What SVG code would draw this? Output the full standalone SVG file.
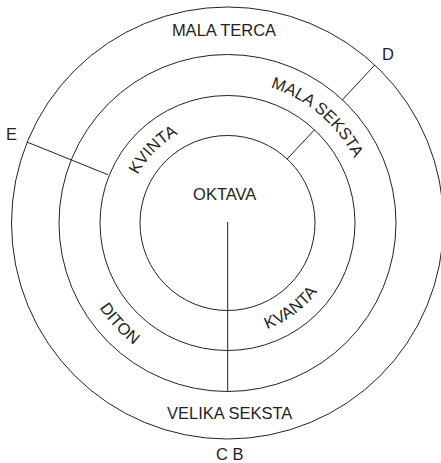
<svg xmlns="http://www.w3.org/2000/svg" width="441" height="463" viewBox="0 0 441 463">
  <style>
    .ring { fill: none; stroke: #222; stroke-width: 1; }
    .div { stroke: #222; stroke-width: 1; fill: none; }
    .lbl { font-family: "Liberation Sans", Arial, sans-serif; font-size: 16.5px; fill: #231f20; }
    .mid { text-anchor: middle; }
  </style>
  <defs>
    <path id="pKvinta" d="M125.7,223.9 A101.8,101.8 0 0 1 226.6,121.2"/>
    <path id="pMalaSeksta" d="M215.8,81.2 A142.3,142.3 0 0 1 369.3,211.3"/>
    <path id="pDiton" d="M73.9,217.6 A153.7,153.7 0 0 0 222.1,376.6"/>
    <path id="pKvanta" d="M210.8,335.0 A113.2,113.2 0 0 0 339.5,239.7"/>
  </defs>
  <g id="rings">
    <circle class="ring" cx="227.5" cy="223" r="216"/>
    <circle class="ring" cx="227.5" cy="223" r="168.5"/>
    <circle class="ring" cx="227.5" cy="223" r="127.5"/>
    <circle class="ring" cx="227.5" cy="223" r="87.5"/>
  </g>
  <g id="connectors">
    <line class="div" x1="342.4" y1="99.8" x2="374.8" y2="65.0"/>
    <line class="div" x1="287.2" y1="159.0" x2="314.5" y2="129.7"/>
    <line class="div" x1="107.9" y1="174.7" x2="27.2" y2="142.1"/>
    <line class="div" x1="227.7" y1="222" x2="227.7" y2="391"/>
  </g>
  <g id="oktava"><text class="lbl mid" x="224.7" y="199.5">OKTAVA</text></g>
  <g id="mala-terca"><text class="lbl mid" x="224" y="35.5">MALA TERCA</text></g>
  <g id="velika-seksta"><text class="lbl mid" x="229.7" y="418.5">VELIKA SEKSTA</text></g>
  <g id="kvinta"><text class="lbl"><textPath href="#pKvinta" startOffset="50%" text-anchor="middle">KVINTA</textPath></text></g>
  <g id="mala-seksta"><text class="lbl"><textPath href="#pMalaSeksta" startOffset="50%" text-anchor="middle">MALA SEKSTA</textPath></text></g>
  <g id="diton"><text class="lbl"><textPath href="#pDiton" startOffset="50%" text-anchor="middle">DITON</textPath></text></g>
  <g id="kvanta"><text class="lbl"><textPath href="#pKvanta" startOffset="50%" text-anchor="middle">KVANTA</textPath></text></g>
  <g id="label-d"><text class="lbl" x="382" y="60.3">D</text></g>
  <g id="label-e"><text class="lbl" x="6" y="140.3">E</text></g>
  <g id="label-cb"><text class="lbl mid" x="229.7" y="459.5">C B</text></g>
</svg>
